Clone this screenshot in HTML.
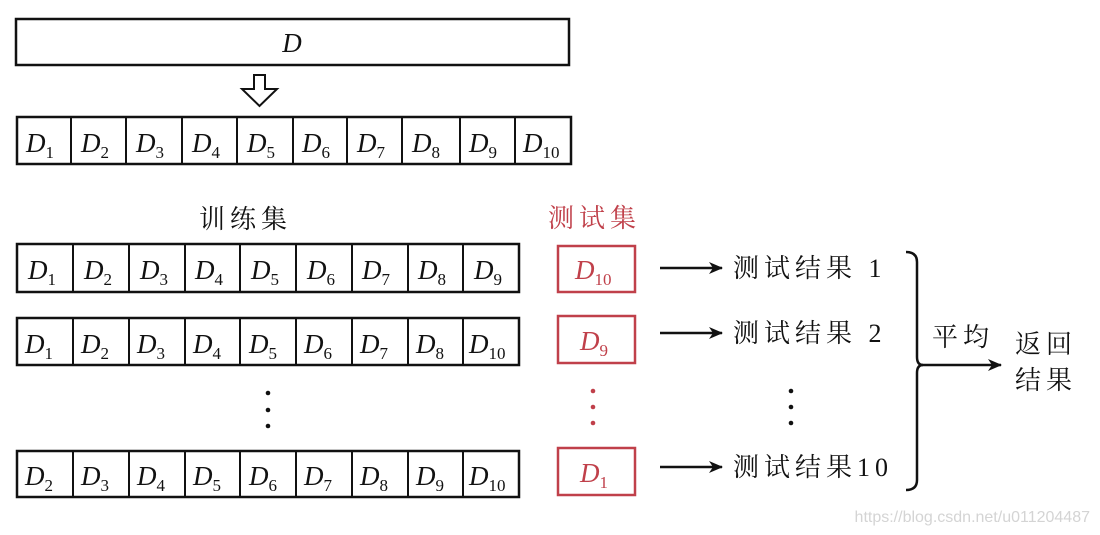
<!DOCTYPE html>
<html><head><meta charset="utf-8"><style>
html,body{margin:0;padding:0;background:#fff;}
svg{display:block;}
.d{font-family:"Liberation Serif",serif;font-style:italic;font-size:27px;fill:#111;}
.s{font-style:normal;font-size:17px;}
.c{font-family:"Liberation Serif","Noto Serif CJK SC",serif;font-size:26px;fill:#111;letter-spacing:5px;}
</style></head><body>
<svg width="1100" height="535" viewBox="0 0 1100 535" xmlns="http://www.w3.org/2000/svg">
<defs><marker id="ah" markerWidth="14" markerHeight="12" refX="13" refY="6" orient="auto" markerUnits="userSpaceOnUse"><path d="M0,0 L14,6 L0,12 L4,6 Z" fill="#111"/></marker></defs>
<rect x="16" y="19" width="553" height="46" fill="none" stroke="#111" stroke-width="2.5"/>
<text class="d" x="292" y="52" text-anchor="middle">D</text>
<path d="M254,75 H265 V89 H277 L259.5,106 L242,89 H254 Z" fill="#fff" stroke="#111" stroke-width="2"/>
<g stroke="#111" stroke-width="2.5" fill="none">
<rect x="17" y="117" width="554" height="47"/>
<rect x="17" y="244" width="502" height="48"/>
<rect x="17" y="318" width="502" height="47"/>
<rect x="17" y="451" width="502" height="46"/>
</g>
<g stroke="#111" stroke-width="2">
<line x1="71" y1="117" x2="71" y2="164"/><line x1="126" y1="117" x2="126" y2="164"/><line x1="182" y1="117" x2="182" y2="164"/><line x1="237" y1="117" x2="237" y2="164"/><line x1="293" y1="117" x2="293" y2="164"/><line x1="347" y1="117" x2="347" y2="164"/><line x1="402" y1="117" x2="402" y2="164"/><line x1="460" y1="117" x2="460" y2="164"/><line x1="515" y1="117" x2="515" y2="164"/>
</g>
<g class="d">
<text x="26" y="152">D<tspan class="s" dy="6">1</tspan></text>
<text x="81" y="152">D<tspan class="s" dy="6">2</tspan></text>
<text x="136" y="152">D<tspan class="s" dy="6">3</tspan></text>
<text x="192" y="152">D<tspan class="s" dy="6">4</tspan></text>
<text x="247" y="152">D<tspan class="s" dy="6">5</tspan></text>
<text x="302" y="152">D<tspan class="s" dy="6">6</tspan></text>
<text x="357" y="152">D<tspan class="s" dy="6">7</tspan></text>
<text x="412" y="152">D<tspan class="s" dy="6">8</tspan></text>
<text x="469" y="152">D<tspan class="s" dy="6">9</tspan></text>
<text x="523" y="152">D<tspan class="s" dy="6">10</tspan></text>
</g>
<g stroke="#111" stroke-width="2">
<path d="M73,244V292M129,244V292M185,244V292M240,244V292M296,244V292M352,244V292M408,244V292M463,244V292"/>
<path d="M73,318V365M129,318V365M185,318V365M240,318V365M296,318V365M352,318V365M408,318V365M463,318V365"/>
<path d="M73,451V497M129,451V497M185,451V497M240,451V497M296,451V497M352,451V497M408,451V497M463,451V497"/>
</g>
<g class="d">
<text x="28" y="279">D<tspan class="s" dy="6">1</tspan></text><text x="84" y="279">D<tspan class="s" dy="6">2</tspan></text><text x="140" y="279">D<tspan class="s" dy="6">3</tspan></text><text x="195" y="279">D<tspan class="s" dy="6">4</tspan></text><text x="251" y="279">D<tspan class="s" dy="6">5</tspan></text><text x="307" y="279">D<tspan class="s" dy="6">6</tspan></text><text x="362" y="279">D<tspan class="s" dy="6">7</tspan></text><text x="418" y="279">D<tspan class="s" dy="6">8</tspan></text><text x="474" y="279">D<tspan class="s" dy="6">9</tspan></text>
<text x="25" y="353">D<tspan class="s" dy="6">1</tspan></text><text x="81" y="353">D<tspan class="s" dy="6">2</tspan></text><text x="137" y="353">D<tspan class="s" dy="6">3</tspan></text><text x="193" y="353">D<tspan class="s" dy="6">4</tspan></text><text x="249" y="353">D<tspan class="s" dy="6">5</tspan></text><text x="304" y="353">D<tspan class="s" dy="6">6</tspan></text><text x="360" y="353">D<tspan class="s" dy="6">7</tspan></text><text x="416" y="353">D<tspan class="s" dy="6">8</tspan></text><text x="469" y="353">D<tspan class="s" dy="6">10</tspan></text>
<text x="25" y="485">D<tspan class="s" dy="6">2</tspan></text><text x="81" y="485">D<tspan class="s" dy="6">3</tspan></text><text x="137" y="485">D<tspan class="s" dy="6">4</tspan></text><text x="193" y="485">D<tspan class="s" dy="6">5</tspan></text><text x="249" y="485">D<tspan class="s" dy="6">6</tspan></text><text x="304" y="485">D<tspan class="s" dy="6">7</tspan></text><text x="360" y="485">D<tspan class="s" dy="6">8</tspan></text><text x="416" y="485">D<tspan class="s" dy="6">9</tspan></text><text x="469" y="485">D<tspan class="s" dy="6">10</tspan></text>
</g>
<text class="c" x="199" y="228">训练集</text>
<text class="c" x="548" y="227" style="fill:#c0404a">测试集</text>
<g stroke="#c0404a" stroke-width="2.5" fill="none">
<rect x="558" y="246" width="77" height="46"/>
<rect x="558" y="316" width="77" height="47"/>
<rect x="558" y="448" width="77" height="47"/>
</g>
<g class="d" style="fill:#c0404a">
<text x="575" y="279">D<tspan class="s" dy="6">10</tspan></text>
<text x="580" y="350">D<tspan class="s" dy="6">9</tspan></text>
<text x="580" y="482">D<tspan class="s" dy="6">1</tspan></text>
</g>
<g fill="#111"><circle cx="268" cy="393" r="2.3"/><circle cx="268" cy="410" r="2.3"/><circle cx="268" cy="426" r="2.3"/>
<circle cx="791" cy="391" r="2.3"/><circle cx="791" cy="407" r="2.3"/><circle cx="791" cy="423" r="2.3"/></g>
<g fill="#c0404a"><circle cx="593" cy="391" r="2.3"/><circle cx="593" cy="407" r="2.3"/><circle cx="593" cy="423" r="2.3"/></g>
<g stroke="#111" stroke-width="2.5" marker-end="url(#ah)">
<line x1="660" y1="268" x2="722" y2="268"/>
<line x1="660" y1="333" x2="722" y2="333"/>
<line x1="660" y1="467" x2="722" y2="467"/>
<line x1="920" y1="365" x2="1001" y2="365"/>
</g>
<text class="c" x="733" y="277">测试结果 1</text>
<text class="c" x="733" y="342">测试结果 2</text>
<text class="c" x="733" y="476">测试结果10</text>
<path d="M906,252 Q917,252 917,262 V357 Q917,365 923,365 Q917,365 917,373 V480 Q917,490 906,490" fill="none" stroke="#111" stroke-width="2.5"/>
<text class="c" x="932" y="346">平均</text>
<text class="c" x="1015" y="353">返回</text>
<text class="c" x="1015" y="389">结果</text>
<text x="1090" y="522" text-anchor="end" style="font-family:'Liberation Sans',sans-serif;font-size:16px;fill:#d4d4d4">https://blog.csdn.net/u011204487</text>
</svg>
</body></html>
